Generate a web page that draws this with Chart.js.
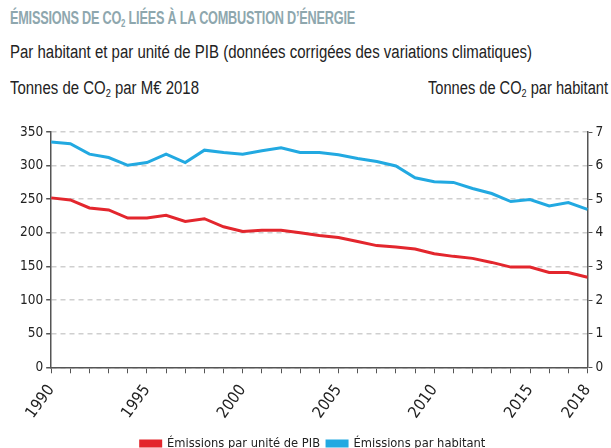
<!DOCTYPE html>
<html lang="fr">
<head>
<meta charset="utf-8">
<script src="https://cdn.jsdelivr.net/npm/chart.js@4"></script>
<style>
  body {
    margin: 0;
    width: 611px;
    height: 448px;
    background: #fff;
    overflow: hidden;
    position: relative;
    font-family: 'Liberation Sans', Arial, sans-serif;
    color: #222;
  }
  .txt { position: absolute; white-space: nowrap; transform-origin: 0 0; }
  sub { font-size: 0.62em; vertical-align: -0.25em; line-height: 0; }
  #title { left: 10px; top: 8px; font-size: 18px; font-weight: bold; color: #8ea7ae; letter-spacing: -0.3px; }
  #subtitle { left: 10px; top: 42px; font-size: 18px; }
  #leftTitle { left: 10px; top: 78px; font-size: 18px; }
  #rightTitle { left: 428px; top: 78px; font-size: 18px; }
  #wrap { position: absolute; left: 0; top: 0; width: 611px; height: 448px; }
</style>
</head>
<body>
<div class="txt" id="title" data-w="345">ÉMISSIONS DE CO<sub>2</sub> LIÉES À LA COMBUSTION D’ÉNERGIE</div>
<div class="txt" id="subtitle" data-w="522">Par habitant et par unité de PIB (données corrigées des variations climatiques)</div>
<div class="txt" id="leftTitle" data-w="189">Tonnes de CO<sub>2</sub> par M€ 2018</div>
<div class="txt" id="rightTitle" data-w="180">Tonnes de CO<sub>2</sub> par habitant</div>
<div id="wrap"><canvas id="chart"></canvas></div>
<script>
// années (catégories)
const years = ['1990', '1991', '1992', '1993', '1994', '1995', '1996', '1997', '1998', '1999',
               '2000', '2001', '2002', '2003', '2004', '2005', '2006', '2007', '2008', '2009',
               '2010', '2011', '2012', '2013', '2014', '2015', '2016', '2017', '2018'];
// années affichées sous l'axe
const shownYears = ['1990', '1995', '2000', '2005', '2010', '2015', '2018'];

// t CO2 par M€ 2018 (axe gauche)
const pibValues = [252, 249, 237, 234, 222, 222, 226, 217, 221, 209,
                   202, 204, 204, 200, 196, 193, 187, 181, 179, 176,
                   169, 165, 162, 156, 149, 149, 141, 141, 134];
// t CO2 par habitant (axe droit)
const habValues = [6.70, 6.65, 6.34, 6.24, 6.01, 6.09, 6.34, 6.09, 6.46, 6.39,
                   6.34, 6.44, 6.53, 6.39, 6.39, 6.32, 6.21, 6.12, 5.99, 5.64,
                   5.52, 5.50, 5.32, 5.17, 4.93, 4.99, 4.80, 4.90, 4.70];

const seriesNames = ['Émissions par unité de PIB', 'Émissions par habitant'];

const RED = '#e3262d';
const BLUE = '#22a9e1';
const AXIS = '#555';
const FONT = "'DejaVu Sans Condensed', sans-serif";

// police étroite : on resserre les textes HTML à la largeur voulue
document.querySelectorAll('.txt').forEach(el => {
    const k = Number(el.dataset.w) / el.getBoundingClientRect().width;
    el.style.transform = 'scaleX(' + k + ')';
});

const ctx = document.getElementById('chart').getContext('2d');
new Chart(ctx, {
    type: 'line',
    data: {
        labels: years,
        datasets: [{
            label: seriesNames[0],
            data: pibValues,
            yAxisID: 'y',
            borderColor: RED,
            backgroundColor: RED,
            borderWidth: 3,
            pointRadius: 0,
            tension: 0
        }, {
            label: seriesNames[1],
            data: habValues,
            yAxisID: 'y1',
            borderColor: BLUE,
            backgroundColor: BLUE,
            borderWidth: 3,
            pointRadius: 0,
            tension: 0
        }]
    },
    options: {
        responsive: true,
        maintainAspectRatio: false,
        animation: false,
        layout: { padding: { top: 132, left: 17, right: 2, bottom: -12 } },
        plugins: {
            legend: {
                position: 'bottom',
                labels: {
                    boxWidth: 20,
                    boxHeight: 5,
                    padding: 7,
                    color: '#222',
                    font: { family: FONT, size: 12.8 }
                }
            },
            tooltip: { enabled: false }
        },
        scales: {
            x: {
                offset: false,
                grid: { drawOnChartArea: false, drawTicks: true, tickLength: 6, color: AXIS },
                border: { color: AXIS, width: 1.5 },
                ticks: {
                    autoSkip: false,
                    minRotation: 54,
                    maxRotation: 54,
                    padding: 8,
                    color: '#222',
                    font: { family: FONT, size: 16 },
                    callback: function(val, i) {
                        const y = years[i];
                        return shownYears.includes(y) ? y : '';
                    }
                }
            },
            y: {
                position: 'left',
                min: 0,
                max: 350,
                ticks: { stepSize: 50, color: '#222', font: { family: FONT, size: 13.5 }, padding: 3 },
                grid: { color: '#cfcfcf', lineWidth: 1.5, tickColor: AXIS, tickLength: 5, tickBorderDash: [] },
                border: { color: AXIS, width: 1.5, dash: [5, 4] }
            },
            y1: {
                position: 'right',
                min: 0,
                max: 7,
                ticks: { stepSize: 1, color: '#222', font: { family: FONT, size: 13.5 }, padding: 3 },
                grid: { drawOnChartArea: false, tickColor: AXIS, tickLength: 5 },
                border: { color: AXIS, width: 1.5 }
            }
        }
    }
});
</script>
</body>
</html>
